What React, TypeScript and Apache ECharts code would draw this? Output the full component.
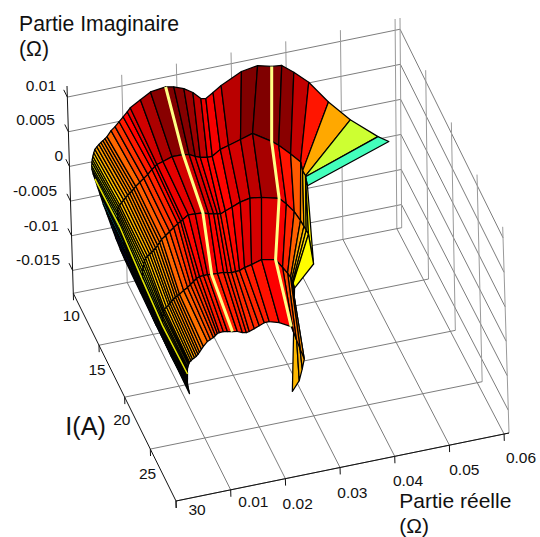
import React, { useEffect, useRef } from "react";
import * as echarts from "echarts";

// Axis ticks
const realTicks = [0.01, 0.02, 0.03, 0.04, 0.05, 0.06];
const currentTicks = [10, 15, 20, 25, 30];
const imagTicks = [0.01, 0.005, 0, -0.005, -0.01, -0.015];
const realTickLabels = ["0.01", "0.02", "0.03", "0.04", "0.05", "0.06"];
const currentTickLabels = ["10", "15", "20", "25", "30"];
const imagTickLabels = ["0.01", "0.005", "0", "-0.005", "-0.01", "-0.015"];

// Surface: one row per current (A), values in milliohm
const currents = [10, 15, 20, 25, 30];
const real10 = [9.67,8.89,8.12,7.36,6.6,5.98,5.42,5,4.59,4.29,4.09,4.07,4.13,4.22,4.34,4.52,4.74,5.11,5.51,5.88,6.26,6.64,7.02,7.79,8.54,9.31,10.06,10.83,11.4,13.29,15.17,17.95,19.43,21.26,22.89,24.33,25.24,26.57,28.07,31.83,34.8,37.37,39.21,41.39,44.09,47.65,51.61,56.67,58.66];
const imag10 = [-14.97,-13.35,-11.6,-9.75,-7.82,-6.35,-4.8,-3.65,-2.53,-1.75,-1.03,-0.55,-0.04,0.37,0.78,1.25,1.7,2,2.3,2.52,2.73,2.95,3.18,3.92,4.37,4.96,5.55,6.14,6.63,7.48,8.31,8.6,8.37,7.81,6.99,5.9,5.75,6.41,7.17,8.58,8.96,8.43,8.27,6.95,5.09,1.7,-1.46,-4.65,-5.66];
const real15 = [7.95,7.46,6.94,6.44,5.94,5.52,5.1,4.75,4.44,4.27,4.14,4.14,4.17,4.34,4.56,4.92,5.31,5.69,6.08,6.46,6.84,7.21,7.59,8.35,9.09,9.85,10.62,11.18,11.56,12.67,14.35,16.38,17.47,18.56,19.48,20.76,21.68,23.18,24.68,26.9,29.13,32.57,33.84,35.99,37.79,38.11,38.63,38.63,38.95];
const imag15 = [-12.01,-10.75,-9.44,-8.05,-6.72,-5.45,-4.18,-3.05,-1.93,-1.15,-0.32,0.2,0.67,0.95,1.18,1.45,1.76,2.05,2.36,2.58,2.8,3.1,3.39,3.85,4.3,4.75,5.34,5.68,5.91,6.16,6.6,6.57,6.4,5.95,5.67,5.47,5.47,6.23,6.56,7.07,7.58,5.89,5.13,3.52,2.11,0.78,-0.01,-0.15,-1.48];
const real20 = [6.23,5.77,5.38,5.05,4.73,4.47,4.24,4.07,3.92,3.93,3.97,4.07,4.19,4.37,4.59,4.95,5.34,5.72,6.08,6.46,6.85,7.22,7.6,8.36,9.1,9.86,10.62,11.17,11.55,12.6,13.85,15.25,16.3,17.2,17.9,18.45,19.35,20.6,22.1,23.9,26,29.2,30.5,31.9,33,33.6,34,34.4,35.2];
const imag20 = [-9.07,-8.15,-7.22,-6.25,-5.28,-4.45,-3.64,-2.9,-2.17,-1.5,-0.9,-0.35,0.2,0.6,0.99,1.21,1.44,1.65,1.88,2.15,2.47,2.85,3.21,3.66,4.11,4.56,5.01,5.21,5.44,5.96,5.9,5.81,5.5,5.35,5.24,5.15,5.44,5.81,6.28,6.56,6.35,5.7,4.68,3.36,1.9,0.97,0.35,-0.27,-4.7];
const real25 = [4.72,4.34,4.03,3.78,3.52,3.35,3.21,3.04,2.9,2.9,2.94,3.01,3.14,3.22,3.34,3.7,4.1,4.37,4.66,5.03,5.41,5.77,6.15,6.91,7.65,8.2,8.77,9.33,9.89,10.62,11.35,12.09,13.18,14.29,15,15.74,16.47,17.2,18.13,19.42,21.27,23.81,25.05,25.94,26.45,26.62,26.79,26.88,27.12];
const imag25 = [-6.28,-5.66,-5.04,-4.36,-3.69,-3.01,-2.36,-1.71,-1.03,-0.51,-0.05,0.29,0.63,0.97,1.31,1.54,1.76,2,2.24,2.46,2.69,2.84,2.99,3.44,3.75,4.09,4.43,4.77,4.96,4.99,5.02,4.91,4.88,4.85,4.73,4.61,4.64,4.66,4.95,5.18,5.6,5.21,3.87,2.88,2.23,1.77,1.47,1.31,0.57];
const real30 = [3.02,2.94,2.86,2.78,2.71,2.71,2.73,2.74,2.76,2.76,2.78,2.86,2.98,3.08,3.19,3.47,3.75,4.12,4.48,4.77,5.06,5.41,5.8,6.56,7.11,7.66,8.04,8.41,8.78,9.5,10.24,11.15,12.05,12.96,13.68,14.23,15.15,16.07,17,17.91,19.72,21.88,22.22,22.72,23.4,24.08,23.66,23.05,21.74];
const imag30 = [-3.35,-2.98,-2.62,-2.26,-1.89,-1.53,-1.18,-0.83,-0.48,-0.13,0.23,0.52,0.77,0.97,1.16,1.32,1.5,1.65,1.81,2.04,2.29,2.65,3.01,3.6,3.79,3.99,4.22,4.45,4.53,4.56,4.45,4.3,4.17,3.88,3.76,3.83,4.09,4.37,4.66,4.66,4.24,3.33,2.57,1.36,-0.17,-1.71,-3.06,-4.65,-6.01];

const realRows = [real10, real15, real20, real25, real30];
const imagRows = [imag10, imag15, imag20, imag25, imag30];

// Columns drawn as highlighted lines
const paleColumns = [31, 41];
const yellowColumn = 8;

// Box limits
const REAL_MIN = 0, REAL_MAX = 0.0609, I_MIN = 10, I_MAX = 30, IMAG_MIN = -0.0183, IMAG_MAX = 0.0116;
const COLOR_MIN = -15, COLOR_MAX = 8.5; // milliohm

// Camera: screen position of the eight box corners
const floorA = [73.3, 293.3], floorB = [401.7, 227.7], floorC = [176, 501], floorD = [509, 433];
const topA = [67, 86], topB = [400, 18], topC = [170, 293], topD = [502.7, 226.8];

function project(real: number, cur: number, imag: number): [number, number] {
  const u = (real - REAL_MIN) / (REAL_MAX - REAL_MIN);
  const v = (cur - I_MIN) / (I_MAX - I_MIN);
  const w = (imag - IMAG_MIN) / (IMAG_MAX - IMAG_MIN);
  const bil = (a: number[], b: number[], c: number[], d: number[], k: number) =>
    a[k] * (1 - u) * (1 - v) + b[k] * u * (1 - v) + c[k] * (1 - u) * v + d[k] * u * v;
  const out: [number, number] = [0, 0];
  for (let k = 0; k < 2; k++) {
    out[k] = bil(floorA, floorB, floorC, floorD, k) * (1 - w) + bil(topA, topB, topC, topD, k) * w;
  }
  return out;
}

function jet(t: number): string {
  const c = Math.max(0, Math.min(1, t));
  const ch = (x: number) => Math.round(255 * Math.max(0, Math.min(1, x)));
  const r = 1.5 - Math.abs(4 * c - 3);
  const g = 1.5 - Math.abs(4 * c - 2);
  const b = 1.5 - Math.abs(4 * c - 1);
  return `rgb(${ch(r)},${ch(g)},${ch(b)})`;
}

type P3 = [number, number, number];
type Seg = { a: P3; b: P3; color: string; width: number };

const GRID = "#7d7d7d";
const GRID_V = "#9a9a9a";
const segments: Seg[] = [];
const addSeg = (a: P3, b: P3, color: string, width = 1) => segments.push({ a, b, color, width });

// walls and floor grid
imagTicks.forEach((z) => {
  addSeg([REAL_MIN, I_MIN, z], [REAL_MAX, I_MIN, z], GRID);
  addSeg([REAL_MAX, I_MIN, z], [REAL_MAX, I_MAX, z], GRID);
});
realTicks.forEach((x) => {
  addSeg([x, I_MIN, IMAG_MIN], [x, I_MIN, IMAG_MAX], GRID_V);
  addSeg([x, I_MIN, IMAG_MIN], [x, I_MAX, IMAG_MIN], GRID);
});
currentTicks.forEach((y) => {
  addSeg([REAL_MAX, y, IMAG_MIN], [REAL_MAX, y, IMAG_MAX], GRID_V);
  addSeg([REAL_MIN, y, IMAG_MIN], [REAL_MAX, y, IMAG_MIN], GRID);
});
// axes
const AXIS = "#111";
addSeg([REAL_MIN, I_MIN, IMAG_MIN], [REAL_MIN, I_MIN, IMAG_MAX], AXIS);
addSeg([REAL_MIN, I_MIN, IMAG_MIN], [REAL_MIN, I_MAX, IMAG_MIN], AXIS);
addSeg([REAL_MIN, I_MAX, IMAG_MIN], [REAL_MAX, I_MAX, IMAG_MIN], AXIS);
// tick marks
const TICK_DROP = 0.001;
imagTicks.forEach((z) => addSeg([REAL_MIN, I_MIN, z], [REAL_MIN, I_MIN - 0.7, z], AXIS));
[0, ...realTicks].forEach((x) => addSeg([x, I_MAX, IMAG_MIN], [x, I_MAX, IMAG_MIN - TICK_DROP], AXIS));
currentTicks.forEach((y) => addSeg([REAL_MIN, y, IMAG_MIN], [REAL_MIN, y, IMAG_MIN - TICK_DROP], AXIS));

// faces: band between row r and r+1, column c to c+1, coloured from the first corner
type Face = { r: number; c: number };
const faces: Face[] = [];
const nCols = real10.length;
const lastBandSplit = paleColumns[1];
for (let r = 0; r < currents.length - 1; r++) {
  if (r === 3) {
    for (let c = nCols - 2; c >= lastBandSplit; c--) faces.push({ r, c });
    for (let c = 0; c < lastBandSplit; c++) faces.push({ r, c });
  } else {
    for (let c = 0; c < nCols - 1; c++) faces.push({ r, c });
  }
}

const vertex = (r: number, c: number): P3 => [realRows[r][c] / 1000, currents[r], imagRows[r][c] / 1000];

const columnLines = [
  { col: yellowColumn, color: "#e8e800", width: 1.5 },
  ...paleColumns.map((col) => ({ col, color: "#ffff85", width: 3 })),
];

const TICK_FONT = 15.5;
const FF = '"Liberation Sans", Arial, sans-serif';
const tickText = (text: string, x: number, y: number, align: string) => ({
  type: "text",
  x,
  y,
  silent: true,
  style: { text, fill: "#111", font: `${TICK_FONT}px ${FF}`, textAlign: align, textVerticalAlign: "middle" },
});
const labelText = (text: string, x: number, y: number, size: number) => ({
  type: "text",
  x,
  y,
  silent: true,
  style: { text, fill: "#111", font: `${size}px ${FF}`, textAlign: "left", textVerticalAlign: "middle" },
});

const imagLabelPos = [[56, 85], [55, 119.3], [63, 155.4], [57, 190.8], [59, 225], [60, 259]];
const currentLabelPos = [[71.3, 315.8], [97, 369], [121.8, 419.8], [147.5, 473], [197, 509]];
const realLabelPos = [[253.4, 501], [297.7, 503.5], [352.4, 492], [408, 480.5], [464.3, 469.5], [521, 457]];

export default function App() {
  const ref = useRef<HTMLDivElement>(null);
  useEffect(() => {
    const chart = echarts.init(ref.current!, undefined, { renderer: "svg" });
    const lineItem = (api: any, a: P3, b: P3, color: string, width: number) => {
      const p = api.coord(project(a[0], a[1], a[2]));
      const q = api.coord(project(b[0], b[1], b[2]));
      return {
        type: "line",
        shape: { x1: p[0], y1: p[1], x2: q[0], y2: q[1] },
        style: { stroke: color, lineWidth: width, fill: "none" },
        silent: true,
      };
    };
    chart.setOption({
      animation: false,
      backgroundColor: "#fff",
      grid: { left: 0, right: 0, top: 0, bottom: 0 },
      xAxis: { type: "value", min: 0, max: 540, show: false },
      yAxis: { type: "value", min: 0, max: 537, inverse: true, show: false },
      graphic: [
        ...imagTickLabels.map((t, i) => tickText(t, imagLabelPos[i][0], imagLabelPos[i][1], "right")),
        ...currentTickLabels.map((t, i) => tickText(t, currentLabelPos[i][0], currentLabelPos[i][1], "center")),
        ...realTickLabels.map((t, i) => tickText(t, realLabelPos[i][0], realLabelPos[i][1], "center")),
        labelText("Partie Imaginaire", 19, 23, 21.2),
        labelText("(Ω)", 19, 48, 21.2),
        labelText("Partie réelle", 399.3, 500, 21),
        labelText("(Ω)", 399.3, 525, 21),
        labelText("I(A)", 65.3, 426, 25.2),
      ],
      series: [
        {
          type: "custom",
          coordinateSystem: "cartesian2d",
          clip: false,
          silent: true,
          data: segments.map((_, i) => [0, 0, i]),
          renderItem: (params: any, api: any) => {
            const s = segments[params.dataIndex];
            return lineItem(api, s.a, s.b, s.color, s.width);
          },
        },
        {
          type: "custom",
          coordinateSystem: "cartesian2d",
          clip: false,
          silent: true,
          data: faces.map((_, i) => [0, 0, i]),
          renderItem: (params: any, api: any) => {
            const { r, c } = faces[params.dataIndex];
            const corners = [vertex(r, c), vertex(r, c + 1), vertex(r + 1, c + 1), vertex(r + 1, c)];
            const pts = corners.map((p) => api.coord(project(p[0], p[1], p[2])));
            const t = (imagRows[r][c] - COLOR_MIN) / (COLOR_MAX - COLOR_MIN);
            return {
              type: "polygon",
              shape: { points: pts },
              style: { fill: jet(t), stroke: "#000", lineWidth: 1.25, lineJoin: "round" },
              silent: true,
            };
          },
        },
        {
          type: "custom",
          coordinateSystem: "cartesian2d",
          clip: false,
          silent: true,
          data: columnLines.map((_, i) => [0, 0, i]),
          renderItem: (params: any, api: any) => {
            const l = columnLines[params.dataIndex];
            const pts = currents.map((_, r) => {
              const p = vertex(r, l.col);
              return api.coord(project(p[0], p[1], p[2]));
            });
            return {
              type: "polyline",
              shape: { points: pts },
              style: { stroke: l.color, lineWidth: l.width, fill: "none" },
              silent: true,
            };
          },
        },
      ],
    });
    return () => chart.dispose();
  }, []);
  return <div ref={ref} style={{ position: "fixed", left: 0, top: 0, width: 540, height: 537 }} />;
}
